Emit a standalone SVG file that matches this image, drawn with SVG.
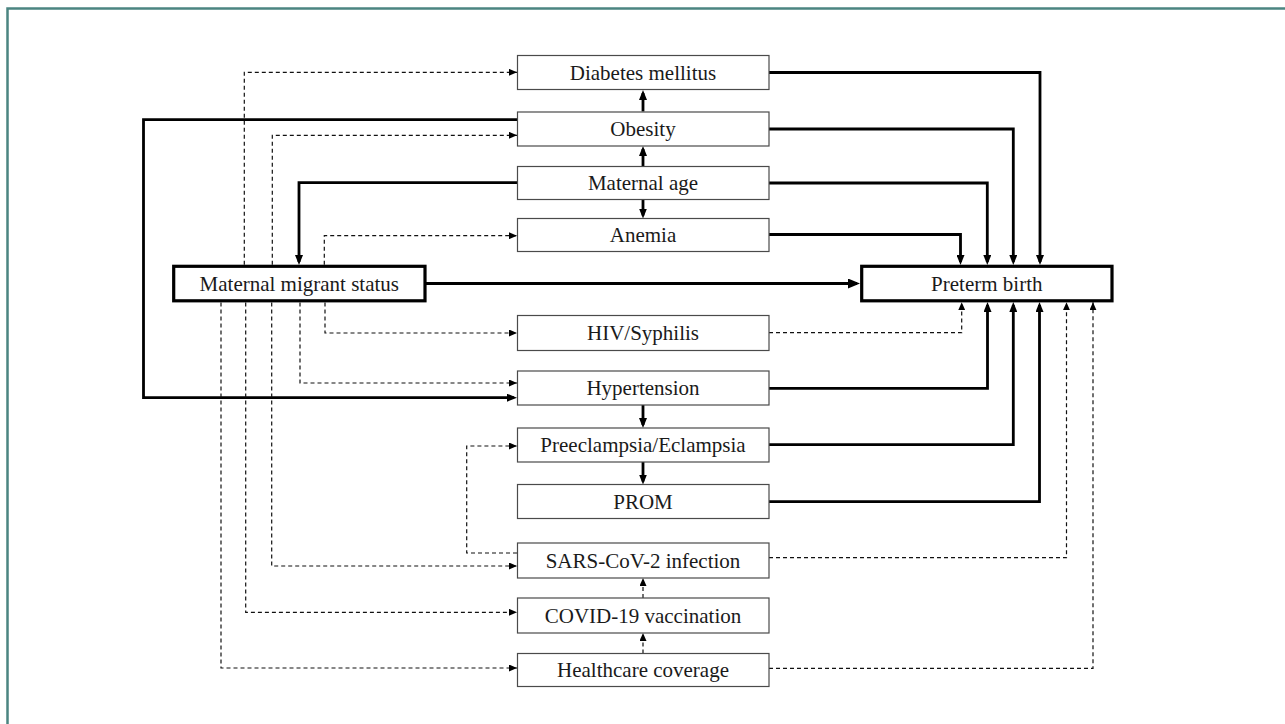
<svg xmlns="http://www.w3.org/2000/svg" width="1285" height="724" viewBox="0 0 1285 724">
<style>
.bg{fill:#ffffff}
.frame{fill:none;stroke:#4b8581;stroke-width:2.5}
.box{fill:#ffffff;stroke:#4a4a4a;stroke-width:1.2}
.main{fill:#ffffff;stroke:#000000;stroke-width:3.2}
.lbl{font-family:"Liberation Serif","Times New Roman",serif;font-size:21px;fill:#1a1a1a;text-anchor:middle}
.thick{fill:none;stroke:#000000;stroke-width:2.8}
.big{fill:none;stroke:#000000;stroke-width:3.2}
.dash{fill:none;stroke:#111111;stroke-width:1.2;stroke-dasharray:4 3}
</style>
<defs>
<marker id="aThin" markerUnits="userSpaceOnUse" markerWidth="8" markerHeight="7" refX="8" refY="3.5" orient="auto">
<path d="M0,0 L8,3.5 L0,7 z" fill="#000"/>
</marker>
<marker id="aThick" markerUnits="userSpaceOnUse" markerWidth="10" markerHeight="8" refX="7" refY="4" orient="auto">
<path d="M0,0 L10,4 L0,8 z" fill="#000"/>
</marker>
<marker id="aBig" markerUnits="userSpaceOnUse" markerWidth="12" markerHeight="10" refX="9" refY="5" orient="auto">
<path d="M0,0 L12,5 L0,10 z" fill="#000"/>
</marker>
</defs>
<rect class="bg" x="0" y="0" width="1285" height="724"/>
<path class="frame" d="M7.5,730 V8.5 H1290"/>

<g id="connectors">
<path class="thick" d="M769,72.5 H1040 V262" marker-end="url(#aThick)"/>
<path class="thick" d="M769,129 H1013.3 V262" marker-end="url(#aThick)"/>
<path class="thick" d="M769,183 H987.3 V262" marker-end="url(#aThick)"/>
<path class="thick" d="M769,234.5 H960.5 V262" marker-end="url(#aThick)"/>
<path class="big" d="M425.5,283.5 H857" marker-end="url(#aBig)"/>
<path class="thick" d="M769,388.3 H987.5 V305" marker-end="url(#aThick)"/>
<path class="thick" d="M769,444.7 H1013.3 V305" marker-end="url(#aThick)"/>
<path class="thick" d="M769,501.7 H1039.5 V305" marker-end="url(#aThick)"/>
<path class="thick" d="M517,119.7 H143.5 V397.7 H514" marker-end="url(#aThick)"/>
<path class="thick" d="M517,182.7 H299 V262" marker-end="url(#aThick)"/>
<path class="thick" d="M643,111.5 V93" marker-end="url(#aThick)"/>
<path class="thick" d="M643,166 V149" marker-end="url(#aThick)"/>
<path class="thick" d="M643,199.5 V215.5" marker-end="url(#aThick)"/>
<path class="thick" d="M643,405 V425" marker-end="url(#aThick)"/>
<path class="thick" d="M643,462 V481.5" marker-end="url(#aThick)"/>
<path class="dash" d="M244.3,264.8 V72.3 H517" marker-end="url(#aThin)"/>
<path class="dash" d="M272.3,264.8 V135.3 H517" marker-end="url(#aThin)"/>
<path class="dash" d="M324.3,264.8 V235.7 H517" marker-end="url(#aThin)"/>
<path class="dash" d="M325,302.5 V333 H517" marker-end="url(#aThin)"/>
<path class="dash" d="M300,302.5 V383 H517" marker-end="url(#aThin)"/>
<path class="dash" d="M271.7,302.5 V566 H517" marker-end="url(#aThin)"/>
<path class="dash" d="M245.7,302.5 V612.3 H517" marker-end="url(#aThin)"/>
<path class="dash" d="M221,302.5 V668 H517" marker-end="url(#aThin)"/>
<path class="dash" d="M517,553 H466.7 V446 H517" marker-end="url(#aThin)"/>
<path class="dash" d="M769,332.7 H961.7 V302.2" marker-end="url(#aThin)"/>
<path class="dash" d="M769,557.7 H1066.5 V302.2" marker-end="url(#aThin)"/>
<path class="dash" d="M769,668.3 H1093 V302.2" marker-end="url(#aThin)"/>
<path class="dash" d="M643,598 V578" marker-end="url(#aThin)"/>
<path class="dash" d="M643,653.5 V633" marker-end="url(#aThin)"/>
</g>

<g id="n-diabetes"><rect class="box" x="517.5" y="55.5" width="251.5" height="34"/><text class="lbl" x="643" y="79.5">Diabetes mellitus</text></g>
<g id="n-obesity"><rect class="box" x="517.5" y="112" width="251.5" height="34"/><text class="lbl" x="643" y="136">Obesity</text></g>
<g id="n-age"><rect class="box" x="517.5" y="166.5" width="251.5" height="33"/><text class="lbl" x="643" y="190">Maternal age</text></g>
<g id="n-anemia"><rect class="box" x="517.5" y="218.5" width="251.5" height="33"/><text class="lbl" x="643" y="242">Anemia</text></g>
<g id="n-migrant"><rect class="main" x="173.7" y="266.3" width="251.3" height="34.5"/><text class="lbl" x="299.3" y="290.5">Maternal migrant status</text></g>
<g id="n-preterm"><rect class="main" x="861.7" y="266.3" width="250.3" height="34.5"/><text class="lbl" x="986.8" y="290.5">Preterm birth</text></g>
<g id="n-hiv"><rect class="box" x="517.5" y="315.5" width="251.5" height="35"/><text class="lbl" x="643" y="340">HIV/Syphilis</text></g>
<g id="n-hypertension"><rect class="box" x="517.5" y="371" width="251.5" height="34"/><text class="lbl" x="643" y="395">Hypertension</text></g>
<g id="n-preeclampsia"><rect class="box" x="517.5" y="428" width="251.5" height="34"/><text class="lbl" x="643" y="452">Preeclampsia/Eclampsia</text></g>
<g id="n-prom"><rect class="box" x="517.5" y="484.5" width="251.5" height="34"/><text class="lbl" x="643" y="508.5">PROM</text></g>
<g id="n-sars"><rect class="box" x="517.5" y="543" width="251.5" height="35"/><text class="lbl" x="643" y="567.5">SARS-CoV-2 infection</text></g>
<g id="n-covid"><rect class="box" x="517.5" y="598" width="251.5" height="35"/><text class="lbl" x="643" y="622.5">COVID-19 vaccination</text></g>
<g id="n-healthcare"><rect class="box" x="517.5" y="653.5" width="251.5" height="33"/><text class="lbl" x="643" y="677">Healthcare coverage</text></g>
</svg>
